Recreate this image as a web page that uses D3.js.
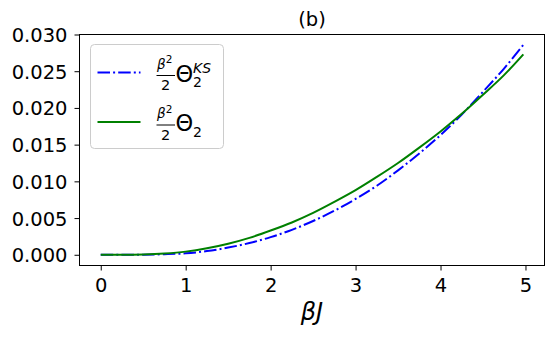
<!DOCTYPE html>
<html lang="en">
<head>
<meta charset="utf-8">
<title>theta2 vs beta J</title>
<script src="https://cdn.jsdelivr.net/npm/d3@7"></script>
<style>
  body { margin: 0; background: #fff; }
  svg text { font-family: "DejaVu Sans", sans-serif; fill: #000; }
</style>
</head>
<body>
<script>
// values
var betaJ   = [0, 0.25, 0.5, 0.75, 1, 1.25, 1.5, 1.75, 2, 2.25, 2.5, 2.75, 3, 3.25, 3.5, 3.75, 4, 4.25, 4.5, 4.75, 4.975];
var thetaKS = [0, 0.000001, 0.00002, 0.00008, 0.0002, 0.0005, 0.00098, 0.0016, 0.0024, 0.0034, 0.0046, 0.0060,
               0.0076, 0.0094, 0.0115, 0.0138, 0.0163, 0.0191, 0.0222, 0.0254, 0.0286];
var theta2  = [0, 0.000003, 0.00005, 0.00018, 0.00043, 0.00088, 0.0015, 0.0023, 0.0033, 0.0044, 0.0057, 0.0072,
               0.0088, 0.0106, 0.0125, 0.0146, 0.0168, 0.0192, 0.0218, 0.0245, 0.0273];
var xTicks = [0, 1, 2, 3, 4, 5];
var yTicks = [0, 0.005, 0.010, 0.015, 0.020, 0.025, 0.030];

var w = 554, h = 338;
var plotL = 79.5, plotR = 544.5, plotT = 34.5, plotB = 265.5;

var svg = d3.select("body").append("svg")
  .attr("width", w)
  .attr("height", h);

var x = d3.scaleLinear().domain([-0.25, 5.224]).range([plotL, plotR]);
var y = d3.scaleLinear().domain([-0.00146, 0.0300]).range([plotB, plotT]);

// axes
var xAxis = svg.append("g")
  .attr("transform", "translate(0," + plotB + ")")
  .call(d3.axisBottom(x).tickValues(xTicks).tickSize(5).tickSizeOuter(0).tickFormat(d3.format("d")));
xAxis.select(".domain").remove();
xAxis.selectAll("text").attr("y", 26).attr("dy", 0);

var yAxis = svg.append("g")
  .attr("transform", "translate(" + plotL + ",0)")
  .call(d3.axisLeft(y).tickValues(yTicks).tickSize(5).tickSizeOuter(0).tickFormat(d3.format(".3f")));
yAxis.select(".domain").remove();
yAxis.selectAll("text").attr("x", -12).attr("dy", "0.36em");

svg.selectAll(".tick line").attr("stroke", "#000").attr("stroke-width", 1);
svg.selectAll(".tick text")
  .attr("fill", "#000")
  .attr("font-family", "DejaVu Sans")
  .attr("font-size", "19.5px");

// lines
var series = [
  { vals: thetaKS, color: "#0000ff", dash: "12.5,3.1,2,3.1" },
  { vals: theta2,  color: "#008000", dash: null }
];

var line = d3.line()
  .x(function(d) { return x(d[0]); })
  .y(function(d) { return y(d[1]); })
  .curve(d3.curveMonotoneX);

series.forEach(function(s) {
  svg.append("path")
    .datum(betaJ.map(function(b, i) { return [b, s.vals[i]]; }))
    .attr("d", line)
    .attr("fill", "none")
    .attr("stroke", s.color)
    .attr("stroke-width", 2)
    .attr("stroke-dasharray", s.dash);
});

// frame
svg.append("rect")
  .attr("x", plotL).attr("y", plotT)
  .attr("width", plotR - plotL).attr("height", plotB - plotT)
  .attr("fill", "none").attr("stroke", "#000").attr("stroke-width", 1);

// title and x label
svg.append("text")
  .attr("x", (plotL + plotR) / 2).attr("y", 26)
  .attr("text-anchor", "middle")
  .attr("font-size", "19.5px")
  .text("(b)");

svg.append("text")
  .attr("x", (plotL + plotR) / 2).attr("y", 320)
  .attr("text-anchor", "middle")
  .attr("font-size", "24px").attr("font-style", "italic")
  .text("βJ");

// legend
var legend = svg.append("g");
legend.append("rect")
  .attr("x", 90.5).attr("y", 44.5)
  .attr("width", 133).attr("height", 104)
  .attr("rx", 4).attr("ry", 4)
  .attr("fill", "#fff").attr("fill-opacity", 0.8)
  .attr("stroke", "#cccccc").attr("stroke-width", 1);

series.forEach(function(s, i) {
  var dy = i * 49.5;
  var g = legend.append("g").attr("transform", "translate(0," + dy + ")");
  g.append("line")
    .attr("x1", 97.5).attr("x2", 140.5)
    .attr("y1", 72.5).attr("y2", 72.5)
    .attr("stroke", s.color).attr("stroke-width", 2)
    .attr("stroke-dasharray", s.dash);
  // fraction beta^2 / 2
  g.append("text").attr("x", 157).attr("y", 68.5)
    .attr("font-size", "13.5px").attr("font-style", "italic").text("β");
  g.append("text").attr("x", 165.8).attr("y", 63)
    .attr("font-size", "10.5px").text("2");
  g.append("line")
    .attr("x1", 156.5).attr("x2", 175)
    .attr("y1", 75.5).attr("y2", 75.5)
    .attr("stroke", "#000").attr("stroke-width", 1);
  g.append("text").attr("x", 165.7).attr("y", 90)
    .attr("text-anchor", "middle")
    .attr("font-size", "14.5px").text("2");
  // Theta
  g.append("text").attr("x", 175.5).attr("y", 81.7)
    .attr("font-size", "22.5px").text("Θ");
  g.append("text").attr("x", 193).attr("y", 87.3)
    .attr("font-size", "14px").text("2");
  if (i === 0) {
    g.append("text").attr("x", 193).attr("y", 72.7)
      .attr("font-size", "14px").attr("font-style", "italic").text("KS");
  }
});
</script>
</body>
</html>
